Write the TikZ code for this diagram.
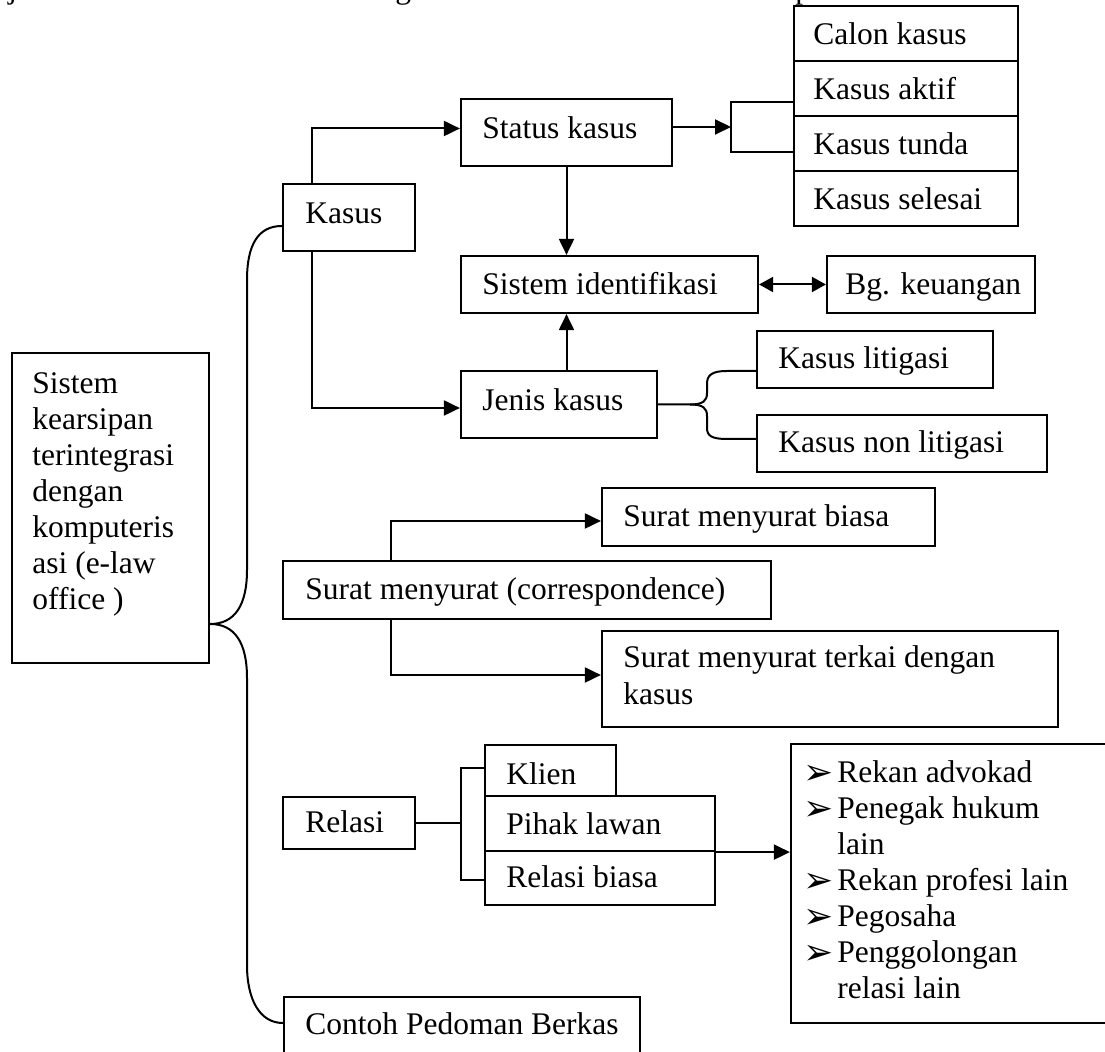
\documentclass[tikz,border=0pt]{standalone}
\usepackage{fontspec}
\setmainfont{Liberation Serif}
\newfontfamily\dejavu{DejaVu Sans}
\usetikzlibrary{arrows.meta,fit}
\begin{document}
\begin{tikzpicture}[x=0.5pt,y=-0.5pt,
  box/.style={draw,line width=1.1pt,inner sep=0pt,rectangle},
  txt/.style={anchor=base west,inner sep=0pt,font=\fontsize{15.75}{18}\selectfont},
  bul/.style={anchor=base west,inner sep=0pt,font=\dejavu\fontsize{18}{20}\selectfont},
  ln/.style={line width=1pt},
  arr/.style={ln,-{Triangle[length=8pt,width=7.5pt]}},
  darr/.style={ln,{Triangle[length=7pt,width=7.5pt]}-{Triangle[length=7pt,width=7.5pt]}},
]
\clip (0,0) rectangle (1105,1052);
% cut-off descenders of the line above
\node[txt] (fj) at (8,-1) {j};
\node[txt] (fg) at (395,-1) {g};
\node[txt] (fp) at (795,-1) {p};
% boxes
\node[box,fit={(12,353) (209,663)}] (main) {};
\node[box,fit={(283,184) (415,251)}] (kasus) {};
\node[box,fit={(461,99) (672,166)}] (status) {};
\node[box,fit={(794,6) (1018,61)}] (c1) {};
\node[box,fit={(794,61) (1018,116)}] (c2) {};
\node[box,fit={(794,116) (1018,171)}] (c3) {};
\node[box,fit={(794,171) (1018,226)}] (c4) {};
\node[box,fit={(461,256) (758,313)}] (ident) {};
\node[box,fit={(827,256) (1035,313)}] (bg) {};
\node[box,fit={(461,371) (657,438)}] (jenis) {};
\node[box,fit={(757,331) (993,388)}] (lit) {};
\node[box,fit={(757,415) (1047,472)}] (nonlit) {};
\node[box,fit={(602,488) (935,546)}] (biasa) {};
\node[box,fit={(283,561) (771,619)}] (surat) {};
\node[box,fit={(602,631) (1058,727)}] (terkai) {};
\node[box,fit={(485,745) (616,796)}] (klien) {};
\node[box,fit={(485,796) (715,851)}] (pihak) {};
\node[box,fit={(485,851) (715,905)}] (rbiasa) {};
\node[box,fit={(283,797) (415,849)}] (relasi) {};
\node[box,fit={(791,744) (1130,1023)}] (list) {};
\node[box,fit={(284,997) (640,1080)}] (contoh) {};
% texts
\node[txt] (t1) at (32,394) {Sistem};
\node[txt] (t2) at (32,430) {kearsipan};
\node[txt] (t3) at (32,466) {terintegrasi};
\node[txt] (t4) at (32,502) {dengan};
\node[txt] (t5) at (32,538) {komputeris};
\node[txt] (t6) at (32,574) {asi (e-law};
\node[txt] (t7) at (32,610) {office )};
\node[txt] (tk) at (305,224) {Kasus};
\node[txt] (ts) at (482,139) {Status kasus};
\node[txt] (tc1) at (813,45) {Calon kasus};
\node[txt] (tc2) at (813,100) {Kasus aktif};
\node[txt] (tc3) at (813,155) {Kasus tunda};
\node[txt] (tc4) at (813,210) {Kasus selesai};
\node[txt] (ti) at (482,295) {Sistem identifikasi};
\node[txt] (tb) at (845,295) {Bg. keuangan};
\node[txt] (tj) at (482,411) {Jenis kasus};
\node[txt] (tl) at (778,369) {Kasus litigasi};
\node[txt] (tn) at (778,453) {Kasus non litigasi};
\node[txt] (tsb) at (623,527) {Surat menyurat biasa};
\node[txt] (tsu) at (305,600) {Surat menyurat (correspondence)};
\node[txt] (tt1) at (623,668) {Surat menyurat terkai dengan};
\node[txt] (tt2) at (623,705) {kasus};
\node[txt] (tkl) at (506,785) {Klien};
\node[txt] (tp) at (506,835) {Pihak lawan};
\node[txt] (trb) at (506,888) {Relasi biasa};
\node[txt] (tr) at (305,833) {Relasi};
\node[txt] (tco) at (305,1035) {Contoh Pedoman Berkas};
% list
\node[bul] (b1) at (803,785) {➢};
\node[txt] (l1) at (837,783) {Rekan advokad};
\node[bul] (b2) at (803,821) {➢};
\node[txt] (l2) at (837,819) {Penegak hukum};
\node[txt] (l3) at (837,855) {lain};
\node[bul] (b4) at (803,893) {➢};
\node[txt] (l4) at (837,891) {Rekan profesi lain};
\node[bul] (b5) at (803,929) {➢};
\node[txt] (l5) at (837,927) {Pegosaha};
\node[bul] (b6) at (803,965) {➢};
\node[txt] (l6) at (837,963) {Penggolongan};
\node[txt] (l7) at (837,999) {relasi lain};
% connectors
\draw[arr] (kasus.north west) ++(30,0) |- ([yshift=2pt]status.west);
\draw[arr] (kasus.south west) ++(30,0) |- ([yshift=-1.75pt]jenis.west);
\coordinate (brk) at (731,127);
\coordinate (brkt) at (731,102);
\coordinate (brkb) at (731,152);
\draw[ln] (c2.west |- brkt) -- (brkt) -- (brkb) -- (c3.west |- brkb);
\draw[arr] (status.east |- brk) -- (brk);
\draw[arr] (status.south) -- (status.south |- ident.north);
\draw[arr] (status.south |- jenis.north) -- (status.south |- ident.south);
\draw[darr] (ident.east) -- (bg.west);
\draw[ln] (jenis.east) -- (690,404.5) .. controls (703,404.5) and (707,401) .. (707,393) -- (707,384) .. controls (707,375) and (712,371) .. (727,371) -- (lit.west |- 0,371);
\draw[ln] (690,404.5) .. controls (703,404.5) and (707,408) .. (707,416) -- (707,428) .. controls (707,436) and (712,439) .. (727,439) -- (nonlit.west |- 0,439);
\draw[ln] (kasus.west |- 0,226) .. controls (258,226) and (247,245) .. (247,280) -- (247,570) .. controls (247,605) and (235,624) .. (main.east |- 0,624) .. controls (235,624) and (247,643) .. (247,678) -- (247,965) .. controls (247,1000) and (260,1023) .. (contoh.west |- 0,1023);
\draw[arr] (surat.north west) ++(109,0) |- ([yshift=-2pt]biasa.west);
\draw[arr] (surat.south west) ++(109,0) |- ([yshift=2pt]terkai.west);
\coordinate (rb) at (461,823);
\draw[ln] (relasi.east |- rb) -- (rb);
\draw[ln] (klien.west |- 0,768) -- (461,768) -- (461,880) -- (rbiasa.west |- 0,880);
\draw[arr] (pihak.south east) -- (list.west |- pihak.south east);
\end{tikzpicture}
\end{document}
